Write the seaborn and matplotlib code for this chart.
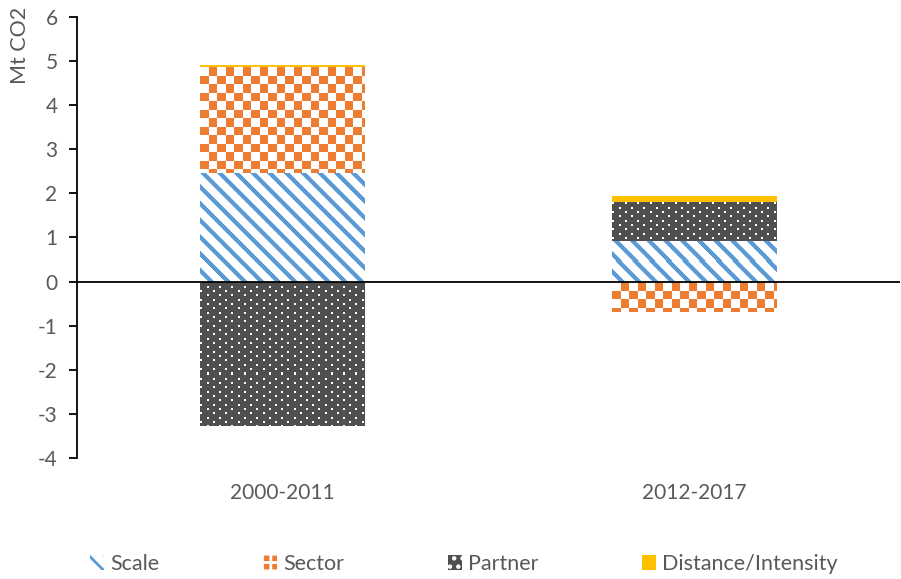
import numpy as np
import pandas as pd
import matplotlib
matplotlib.use("Agg")
import matplotlib.pyplot as plt
import seaborn as sns
from matplotlib.patches import Patch
from matplotlib.colors import to_rgb

categories = ["2000-2011", "2012-2017"]
series = ["Scale", "Sector", "Partner", "Distance/Intensity"]
scale = [2.47, 0.93]
sector = [2.40, -0.68]
partner = [-3.27, 0.88]
distance = [0.05, 0.14]
yticks = list(range(-4, 7))
ylabel = "Mt CO2"

BLUE = "#5B9BD5"
ORANGE = "#ED7D31"
DARK = "#4F4F4F"
YELLOW = "#FFC000"
TXT = "#595959"

sns.set_theme(style="white")
plt.rcParams['font.family'] = ['Lato', 'DejaVu Sans']
plt.rcParams['hatch.linewidth'] = 2.0

W_PX, H_PX = 901, 579
AX_L, AX_R, AX_T, AX_B = 77, 900, 17, 458
XLIM = (-0.5, 1.5)
YLIM = (-4, 6)
PX_X = (AX_R - AX_L) / (XLIM[1] - XLIM[0])
PX_Y = (AX_B - AX_T) / (YLIM[1] - YLIM[0])

fig = plt.figure(figsize=(W_PX / 100, H_PX / 100), dpi=100)
ax = fig.add_axes([AX_L / W_PX, 1 - AX_B / H_PX, (AX_R - AX_L) / W_PX, (AX_B - AX_T) / H_PX])


def pattern(kind, nrow, ncol):
    i = np.arange(nrow)[:, None].astype(float)
    j = np.arange(ncol)[None, :].astype(float)
    white = np.array([1.0, 1.0, 1.0])
    if kind == "stripes":
        P, w = 16.7, 6.0
        d = np.mod(j - i, P)
        c = w / 2
        dd = np.abs(d - c)
        dd = np.minimum(dd, P - dd)
        cov = np.clip(w / 2 + 0.5 - dd, 0, 1)[..., None]
        col = np.array(to_rgb(BLUE))
        return white * (1 - cov) + col * cov
    if kind == "checker":
        s = 8.5
        cov = ((np.floor(i / s) + np.floor(j / s)) % 2)[..., None]
        col = np.array(to_rgb(ORANGE))
        return white * (1 - cov) + col * cov
    if kind == "dots":
        rs, cp = 4.33, 12.4
        k = np.floor(i / rs)
        within = (i - k * rs) < 2
        off = np.mod(k, 2) * cp / 2
        dot = within & (np.mod(j - off, cp) < 2)
        cov = dot.astype(float)[..., None]
        col = np.array(to_rgb(DARK))
        return col * (1 - cov) + white * cov
    return None


values = {"Scale": scale, "Sector": sector, "Partner": partner, "Distance/Intensity": distance}
kinds = {"Scale": "stripes", "Sector": "checker", "Partner": "dots", "Distance/Intensity": None}
pos_bottom = np.zeros(len(categories))
neg_bottom = np.zeros(len(categories))

for name in series:
    v = np.array(values[name], dtype=float)
    bottom = np.where(v >= 0, pos_bottom, neg_bottom)
    df = pd.DataFrame({"period": categories, "value": v})
    sns.barplot(data=df, x="period", y="value", order=categories, bottom=bottom,
                width=0.4, errorbar=None, color=YELLOW, saturation=1, ax=ax)
    cont = ax.containers[-1]
    for rect in cont:
        rect.set_linewidth(0)
        kind = kinds[name]
        if kind is None:
            rect.set_facecolor(YELLOW)
            continue
        rect.set_facecolor("white")
        x0, y0 = rect.get_x(), rect.get_y()
        w, h = rect.get_width(), rect.get_height()
        ylo, yhi = min(y0, y0 + h), max(y0, y0 + h)
        ncol = int(np.ceil(w * PX_X)) + 1
        nrow = int(np.ceil((yhi - ylo) * PX_Y)) + 1
        img = pattern(kind, nrow, ncol)
        im = ax.imshow(img, extent=(x0, x0 + ncol / PX_X, yhi - nrow / PX_Y, yhi), origin="upper",
                       interpolation="nearest", aspect="auto", zorder=rect.get_zorder() + 0.1)
        im.set_clip_path(rect)
    pos_bottom += np.where(v >= 0, v, 0)
    neg_bottom += np.where(v < 0, v, 0)

ax.set_xlim(*XLIM)
ax.set_ylim(*YLIM)
ax.set_yticks(yticks)
ax.set_yticklabels([str(t) for t in yticks])
ax.set_xlabel("")
ax.set_ylabel("")
ax.axhline(0, color="black", lw=1.3, zorder=10)

for s in ["top", "right", "bottom"]:
    ax.spines[s].set_visible(False)
ax.spines["left"].set_color("black")
ax.spines["left"].set_linewidth(1.3)
ax.tick_params(axis="y", left=True, direction="out", length=6, width=1.3, color="black",
               labelsize=15, labelcolor=TXT, pad=8)
ax.tick_params(axis="x", bottom=False, pad=12, labelsize=15, labelcolor=TXT)

fig.text(20 / W_PX, 1 - 45 / H_PX, ylabel, rotation=90, ha="center", va="center",
         fontsize=15.5, color=TXT)

handles = [
    Patch(facecolor="white", edgecolor=BLUE, hatch="\\\\", lw=0),
    Patch(facecolor=ORANGE, edgecolor="white", hatch="++", lw=0),
    Patch(facecolor=DARK, edgecolor="white", hatch="..", lw=0),
    Patch(facecolor=YELLOW, edgecolor=YELLOW, lw=0),
]
fig.legend(handles, series, loc="center", bbox_to_anchor=(464 / W_PX, 1 - 564 / H_PX), ncol=4,
           frameon=False, fontsize=15.5, labelcolor=TXT, handlelength=0.65, handleheight=0.65,
           handletextpad=0.3, columnspacing=4.8)

fig.savefig("out.png", dpi=100)
